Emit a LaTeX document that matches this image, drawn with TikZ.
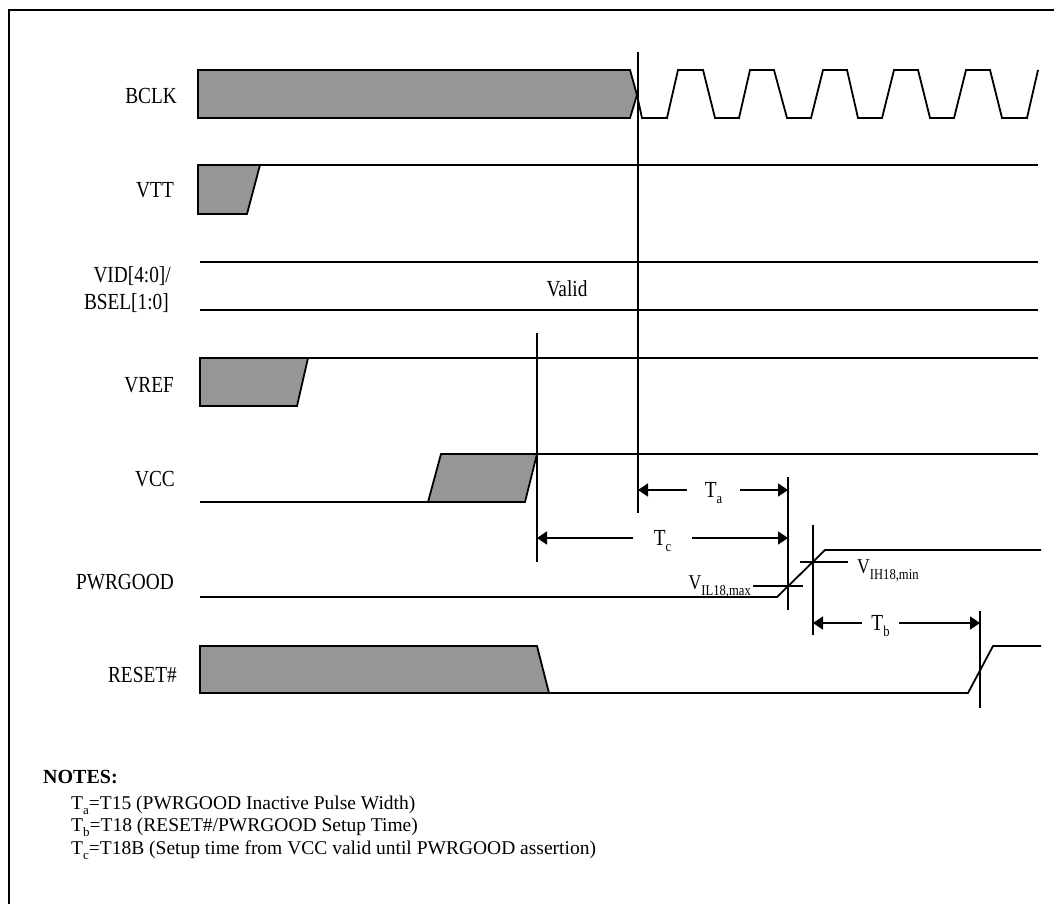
\documentclass[tikz,border=0pt]{standalone}
\usepackage{fontspec}
\usetikzlibrary{arrows.meta}
\newfontfamily\lblfont[FakeStretch=0.84]{Liberation Serif}
\newfontfamily\notefont{Liberation Serif}
\newcommand{\lowsub}[1]{\raisebox{-6pt}{\fontsize{15}{15}\selectfont #1}}
\newcommand{\notesub}[1]{\raisebox{-5pt}{\fontsize{13}{13}\selectfont #1}}
\definecolor{sig}{RGB}{150,150,150}
\tikzset{
  wire/.style={line width=1.8pt, line join=miter},
  busfill/.style={wire, fill=sig},
  lbl/.style={font=\lblfont\fontsize{23}{26}\selectfont, anchor=base east, inner sep=0pt},
  tlbl/.style={font=\lblfont\fontsize{23}{26}\selectfont, anchor=base, inner xsep=0pt, inner ysep=0pt},
  vlbl/.style={font=\lblfont\fontsize{21}{24}\selectfont, inner sep=0pt},
  arr/.style={line width=1.8pt, -{Triangle[length=10pt,width=13pt]}},
  note/.style={font=\notefont\fontsize{19.5}{22}\selectfont, anchor=base west, inner sep=0pt},
}
\begin{document}
\begin{tikzpicture}[x=1pt, y=-1pt]
\useasboundingbox (0,0) rectangle (1054,904);
% frame
\draw[line width=1.8pt] (9,904) -- (9,10) -- (1054,10);

% signal labels
\node[lbl] (lBCLK) at (177,104) {BCLK};
\node[lbl] (lVTT) at (174,197) {VTT};
\node[lbl] (lVID) at (171,282) {VID[4:0]/};
\node[lbl] (lBSEL) at (169,309) {BSEL[1:0]};
\node[lbl] (lVREF) at (174,392) {VREF};
\node[lbl] (lVCC) at (175,486) {VCC};
\node[lbl] (lPWR) at (174,589) {PWRGOOD};
\node[lbl] (lRST) at (177,682) {RESET\#};

% BCLK
\draw[busfill] (198,70) -- (630,70) -- (637,95) -- (630,118) -- (198,118) -- cycle;
\draw[wire] (637,95) -- (642,118) -- (667,118) -- (678,70) -- (703,70) -- (715,118)
  -- (739,118) -- (750,70) -- (774,70) -- (787,118) -- (811,118) -- (823,70)
  -- (847,70) -- (858,118) -- (882,118) -- (894,70) -- (918,70) -- (930,118)
  -- (954,118) -- (966,70) -- (990,70) -- (1002,118) -- (1027,118) -- (1038,70);

% VTT
\draw[busfill] (198,165) -- (260,165) -- (247,214) -- (198,214) -- cycle;
\draw[wire] (260,165) -- (1038,165);

% VID / BSEL
\draw[wire] (200,262) -- (1038,262);
\draw[wire] (200,310) -- (1038,310);
\node[font=\lblfont\fontsize{23}{26}\selectfont, anchor=base, inner sep=0pt] (valid) at (567,296) {Valid};

% VREF
\draw[busfill] (200,358) -- (308,358) -- (297,406) -- (200,406) -- cycle;
\draw[wire] (308,358) -- (1038,358);

% VCC
\draw[wire] (200,502) -- (428,502);
\draw[busfill] (428,502) -- (441,454) -- (537,454) -- (525,502) -- cycle;
\draw[wire] (537,454) -- (1038,454);

% PWRGOOD
\draw[wire] (200,597) -- (777,597) -- (825,550) -- (1041,550);

% RESET#
\draw[busfill] (200,646) -- (537,646) -- (549,693) -- (200,693) -- cycle;
\draw[wire] (549,693) -- (968,693) -- (993,646) -- (1041,646);

% vertical reference lines
\coordinate (clkT) at (638,52);  \coordinate (clkB) at (638,513);
\coordinate (vccT) at (537,333); \coordinate (vccB) at (537,562);
\coordinate (pgT) at (788,477);  \coordinate (pgB) at (788,610);
\coordinate (ihT) at (813,525);  \coordinate (ihB) at (813,635);
\coordinate (rsT) at (980,611);  \coordinate (rsB) at (980,708);
\draw[wire] (clkT) -- (clkB);
\draw[wire] (vccT) -- (vccB);
\draw[wire] (pgT) -- (pgB);
\draw[wire] (ihT) -- (ihB);
\draw[wire] (rsT) -- (rsB);

% threshold ticks
\coordinate (ilL) at (753,586); \coordinate (ilR) at (803,586);
\coordinate (ihL) at (800,562); \coordinate (ihR) at (848,562);
\draw[wire] (ilL) -- (ilR);
\draw[wire] (ihL) -- (ihR);
\node[vlbl, anchor=base east] (vil) at (751,589) {V\lowsub{IL18,max}};
\node[vlbl, anchor=base west] (vih) at (857,573) {V\lowsub{IH18,min}};

% timing arrows
\coordinate (taL) at (638,490); \coordinate (taR) at (788,490);
\coordinate (tcL) at (537,538); \coordinate (tcR) at (788,538);
\coordinate (tbL) at (813,623); \coordinate (tbR) at (980,623);
\node[tlbl, minimum width=53pt] (Ta) at (713.5,497) {T\lowsub{a}};
\node[tlbl, minimum width=59pt] (Tc) at (662.5,545) {T\lowsub{c}};
\node[tlbl, minimum width=37pt] (Tb) at (880.5,630) {T\lowsub{b}};
\draw[arr] (Ta.west |- taL) -- (taL);
\draw[arr] (Ta.east |- taR) -- (taR);
\draw[arr] (Tc.west |- tcL) -- (tcL);
\draw[arr] (Tc.east |- tcR) -- (tcR);
\draw[arr] (Tb.west |- tbL) -- (tbL);
\draw[arr] (Tb.east |- tbR) -- (tbR);

% notes
\node[note, font=\notefont\bfseries\fontsize{20}{22}\selectfont] (notes) at (43,783) {NOTES:};
\node[note] (n1) at (71,809) {T\notesub{a}=T15 (PWRGOOD Inactive Pulse Width)};
\node[note] (n2) at (71,831) {T\notesub{b}=T18 (RESET\#/PWRGOOD Setup Time)};
\node[note] (n3) at (71,854) {T\notesub{c}=T18B (Setup time from VCC valid until PWRGOOD assertion)};
\end{tikzpicture}
\end{document}
